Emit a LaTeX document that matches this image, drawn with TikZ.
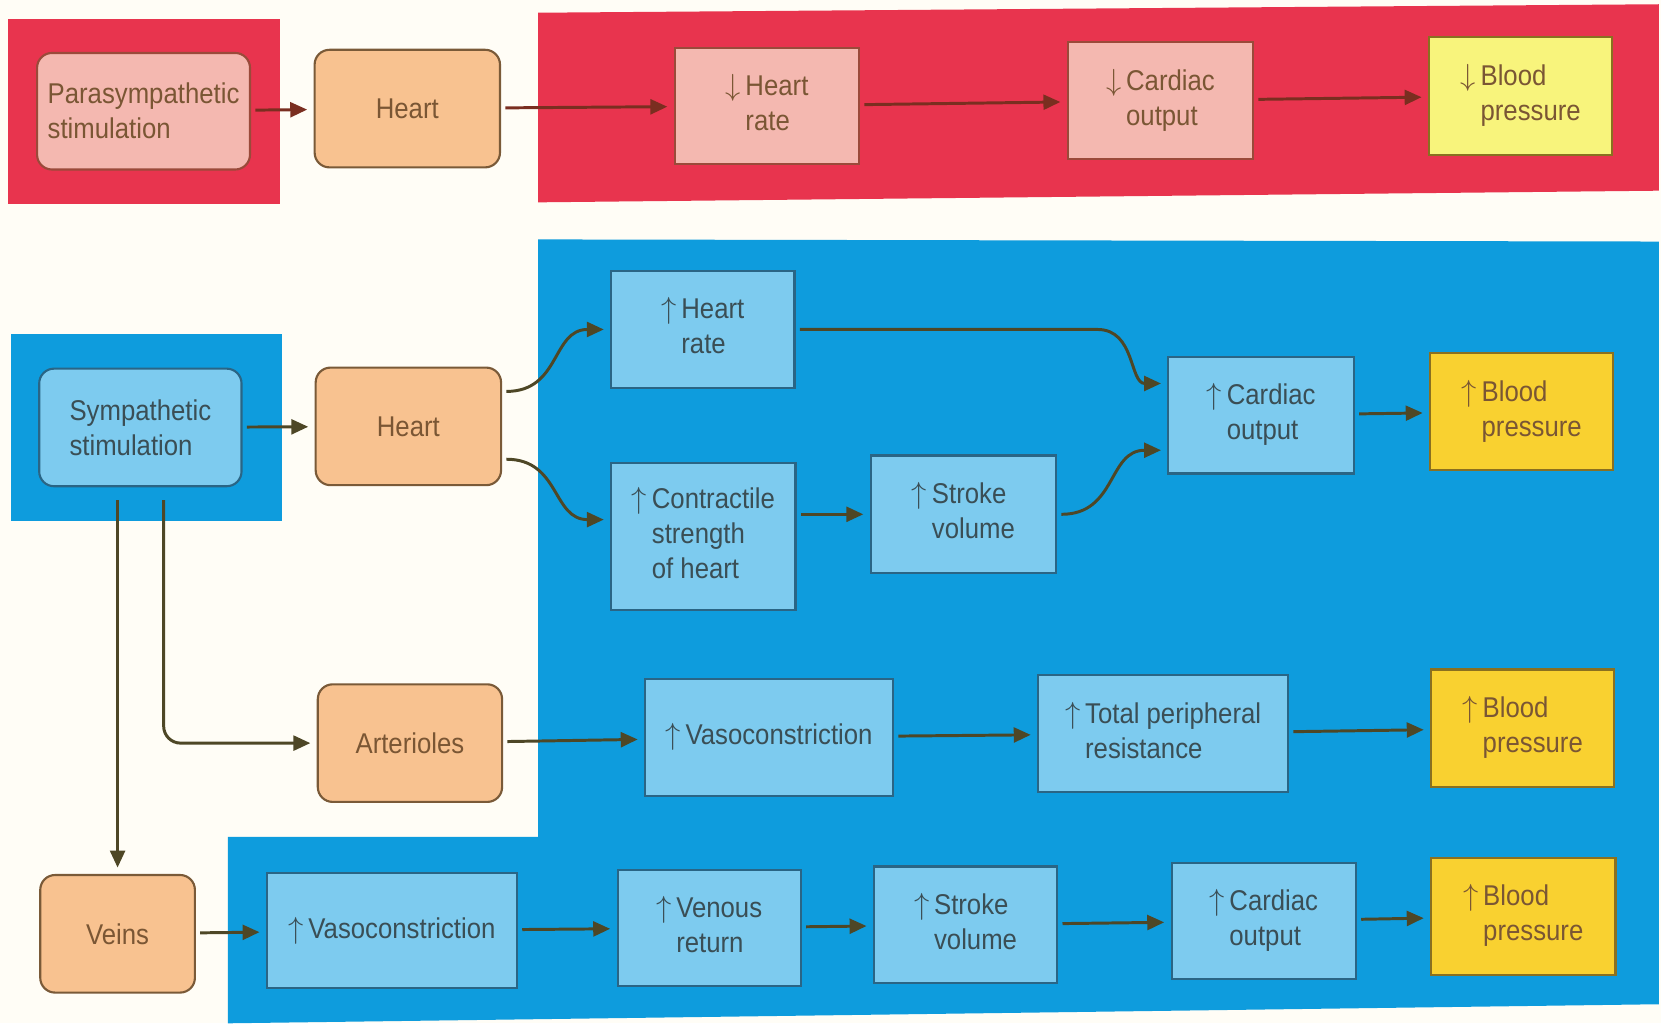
\documentclass[tikz,border=0pt]{standalone}
\usepackage{fontspec}
\setmainfont{Liberation Sans}[FakeStretch=0.9]
\usetikzlibrary{arrows.meta,calc}
\definecolor{bgcream}{HTML}{FFFDF6}
\definecolor{redbg}{HTML}{E8344E}
\definecolor{pinkbox}{HTML}{F4B8B0}
\definecolor{pinkborder}{HTML}{9A4A3A}
\definecolor{peach}{HTML}{F8C290}
\definecolor{peachborder}{HTML}{7A5A38}
\definecolor{paleyellow}{HTML}{F8F47C}
\definecolor{bluebg}{HTML}{0E9CDD}
\definecolor{lightblue}{HTML}{7DCBEF}
\definecolor{blueborder}{HTML}{2A6585}
\definecolor{gold}{HTML}{F9D130}
\definecolor{goldborder}{HTML}{8A7020}
\definecolor{arrowcol}{HTML}{4E4726}
\definecolor{redarrow}{HTML}{7A2E20}
\definecolor{txtbrown}{HTML}{7A5634}
\definecolor{txtblue}{HTML}{3A4E55}
\newcommand{\myup}[1]{$\uparrow$\,\begin{tabular}[t]{@{}l@{}}#1\end{tabular}}
\newcommand{\mydown}[1]{$\downarrow$\,\begin{tabular}[t]{@{}l@{}}#1\end{tabular}}
\begin{document}
\begin{tikzpicture}[x=0.5pt,y=-0.5pt,
  font=\fontsize{13.5pt}{16.5pt}\selectfont,
  sz/.style 2 args={minimum width=#1*0.5pt, minimum height=#2*0.5pt, inner sep=0pt},
  organ/.style={draw=peachborder, fill=peach, line width=1pt, rounded corners=7pt, text=txtbrown, align=left},
  pinkb/.style={draw=pinkborder, fill=pinkbox, line width=1pt, text=txtbrown, align=left},
  pinkr/.style={pinkb, rounded corners=7pt},
  pyell/.style={draw=goldborder, fill=paleyellow, line width=1pt, text=txtbrown},
  bbox/.style={draw=blueborder, fill=lightblue, line width=1pt, text=txtblue},
  sbox/.style={bbox, rounded corners=7pt, align=left},
  gbox/.style={draw=goldborder, fill=gold, line width=1pt, text=txtbrown},
  conn/.style={line width=1.4pt, draw=arrowcol, -{Triangle[length=8pt,width=7pt]}, shorten >=3pt, shorten <=2pt},
  rconn/.style={conn, draw=redarrow}
]
\useasboundingbox (0,0) rectangle (1568,966);
\fill[bgcream] (0,0) rectangle (1568,966);
% backgrounds
\fill[redbg] (8,18) rectangle (264,193);
\fill[redbg] (508,12) -- (1566,4) -- (1566,180) -- (508,191) -- cycle;
\fill[bluebg] (10,315) rectangle (266,492);
\fill[bluebg] (508,226) -- (1566,228) -- (1566,948) -- (215,966) -- (215,790) -- (508,790) -- cycle;

% top row
\node[pinkr, sz={201}{110}] (para) at (135.5,105) {Parasympathetic\\stimulation};
\node[organ, sz={175}{111}] (heart1) at (384.5,102.5) {Heart};
\node[pinkb, sz={174}{110}] (hr1) at (724,100) {\mydown{Heart\\rate}};
\node[pinkb, sz={175}{110}] (co1) at (1095.5,95) {\mydown{Cardiac\\output}};
\node[pyell, sz={173}{111}] (bp1) at (1435.5,90.5) {\mydown{Blood\\pressure}};

% middle
\node[sbox, sz={191}{111}] (symp) at (132.5,403.5) {Sympathetic\\stimulation};
\node[organ, sz={175}{111}] (heart2) at (385.5,402.5) {Heart};
\node[bbox, sz={173}{110}] (hr2) at (663.5,311) {\myup{Heart\\rate}};
\node[bbox, sz={174}{139}] (cs) at (664,506.5) {\myup{Contractile\\strength\\of heart}};
\node[bbox, sz={175}{111}] (sv1) at (909.5,485.5) {\myup{Stroke\\volume}};
\node[bbox, sz={175}{110}] (co2) at (1190.5,392) {\myup{Cardiac\\output}};
\node[gbox, sz={173}{111}] (bp2) at (1436.5,388.5) {\myup{Blood\\pressure}};

% arterioles row
\node[organ, sz={174}{111}] (art) at (387,701.5) {Arterioles};
\node[bbox, sz={234}{110}] (vc1) at (726,696) {$\uparrow$\,Vasoconstriction};
\node[bbox, sz={236}{111}] (tpr) at (1098,692.5) {\myup{Total peripheral\\resistance}};
\node[gbox, sz={173}{111}] (bp3) at (1437.5,687.5) {\myup{Blood\\pressure}};

% veins row
\node[organ, sz={146}{111}] (veins) at (111,881.5) {Veins};
\node[bbox, sz={236}{109}] (vc2) at (370,878.5) {$\uparrow$\,Vasoconstriction};
\node[bbox, sz={173}{110}] (vr) at (669.5,876) {\myup{Venous\\return}};
\node[bbox, sz={173}{110}] (sv2) at (911.5,873) {\myup{Stroke\\volume}};
\node[bbox, sz={174}{109}] (co3) at (1193,869.5) {\myup{Cardiac\\output}};
\node[gbox, sz={174}{110}] (bp4) at (1438,865) {\myup{Blood\\pressure}};

% connectors top
\draw[rconn] (para) -- (heart1);
\draw[rconn] (heart1) -- (hr1);
\draw[rconn] (hr1) -- (co1);
\draw[rconn] (co1) -- (bp1);

% connectors middle
\draw[conn] (symp) -- (heart2);
\draw[conn] ($(heart2.east)+(0,-33)$) to[out=0,in=180,looseness=1.2] (hr2.west);
\draw[conn] ($(heart2.east)+(0,31)$) to[out=0,in=180,looseness=1.2] ($(cs.west)+(0,-16)$);
\draw[conn] (cs.east |- sv1.west) -- (sv1.west);
\draw[conn] (hr2.east) -- ++(285,0) to[out=0,in=180,looseness=1.1] ($(co2.west)+(0,-30)$);
\draw[conn] (sv1.east) to[out=0,in=180,looseness=1.2] ($(co2.west)+(0,33)$);
\draw[conn] (co2) -- (bp2);

% sympathetic down lines
\draw[conn, shorten <=6pt] (symp.south -| veins.north) -- (veins.north);
\draw[conn, shorten <=6pt, rounded corners=8pt] ($(symp.south)+(22,0)$) |- (art.west);

% arterioles row
\draw[conn] (art) -- (vc1);
\draw[conn] (vc1) -- (tpr);
\draw[conn] (tpr) -- (bp3);

% veins row
\draw[conn] (veins) -- (vc2);
\draw[conn] (vc2) -- (vr);
\draw[conn] (vr) -- (sv2);
\draw[conn] (sv2) -- (co3);
\draw[conn] (co3) -- (bp4);
\end{tikzpicture}
\end{document}
